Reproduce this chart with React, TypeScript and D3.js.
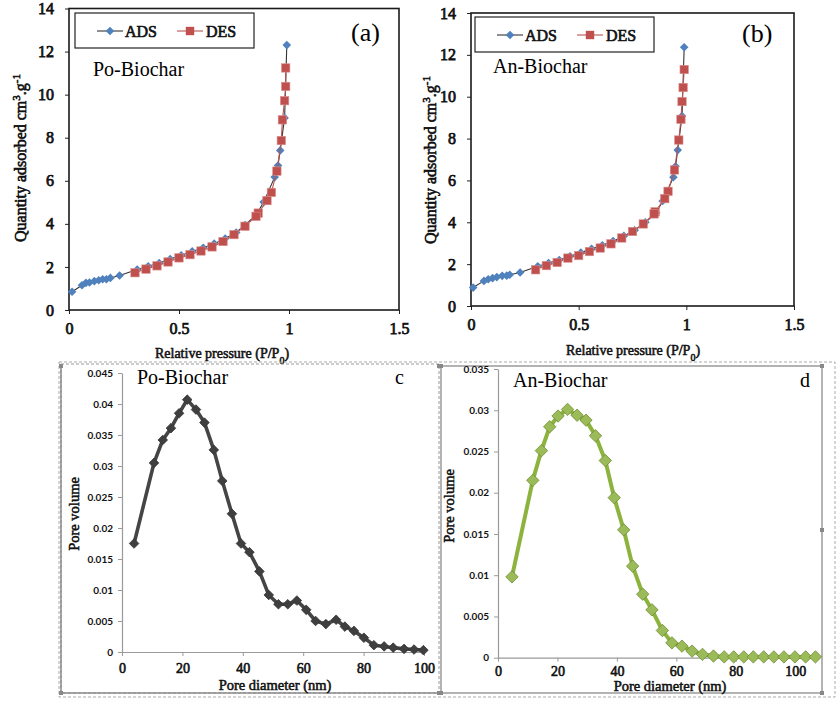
import React, { useEffect, useRef } from "react";
import * as d3 from "d3";

// N2 isotherms, Po-Biochar (relative pressure P/P0, quantity adsorbed cm3/g)
const poAdsP = [0.014, 0.059, 0.077, 0.093, 0.115, 0.135, 0.153, 0.17, 0.188, 0.23, 0.31, 0.36, 0.41, 0.46, 0.51, 0.56, 0.61, 0.66, 0.71, 0.76, 0.8, 0.85, 0.885, 0.935, 0.95, 0.96, 0.98, 0.99];
const poAdsQ = [0.85, 1.15, 1.26, 1.28, 1.34, 1.38, 1.43, 1.43, 1.49, 1.6, 1.88, 2.03, 2.18, 2.37, 2.54, 2.72, 2.89, 3.08, 3.32, 3.6, 3.95, 4.4, 5.01, 6.17, 6.71, 7.41, 8.92, 12.3];
const poDesP = [0.985, 0.985, 0.98, 0.97, 0.965, 0.945, 0.92, 0.9, 0.86, 0.85, 0.8, 0.75, 0.7, 0.65, 0.6, 0.55, 0.5, 0.45, 0.4, 0.35, 0.3];
const poDesQ = [11.24, 10.38, 9.72, 8.83, 7.87, 6.45, 5.46, 5.08, 4.5, 4.35, 3.89, 3.5, 3.18, 2.93, 2.74, 2.57, 2.42, 2.23, 2.05, 1.9, 1.73];

// N2 isotherms, An-Biochar
const anAdsP = [0.01, 0.06, 0.08, 0.1, 0.12, 0.145, 0.166, 0.18, 0.228, 0.31, 0.36, 0.41, 0.46, 0.51, 0.56, 0.61, 0.66, 0.71, 0.76, 0.81, 0.86, 0.89, 0.94, 0.95, 0.96, 0.98, 0.99];
const anAdsQ = [0.88, 1.2, 1.28, 1.33, 1.38, 1.44, 1.45, 1.49, 1.6, 1.9, 2.05, 2.2, 2.38, 2.55, 2.73, 2.9, 3.1, 3.35, 3.62, 4.0, 4.45, 5.02, 6.15, 6.68, 7.45, 9.08, 12.36];
const anDesP = [0.99, 0.985, 0.98, 0.975, 0.965, 0.945, 0.915, 0.9, 0.855, 0.85, 0.8, 0.75, 0.7, 0.65, 0.6, 0.55, 0.5, 0.45, 0.4, 0.35, 0.3];
const anDesQ = [11.3, 10.44, 9.77, 8.92, 7.93, 6.5, 5.48, 5.13, 4.5, 4.4, 3.92, 3.56, 3.25, 2.97, 2.77, 2.6, 2.41, 2.29, 2.08, 1.93, 1.73];

// pore size distributions (diameter nm, pore volume)
const poPoreD = [4.0, 10.6, 13.5, 16.2, 18.9, 21.6, 24.5, 27.3, 30.4, 33.2, 36.4, 39.4, 42.2, 45.5, 48.6, 51.8, 54.9, 57.9, 61.0, 64.1, 67.5, 70.9, 73.8, 76.8, 80.1, 83.4, 86.8, 89.8, 93.4, 96.7, 99.8];
const poPoreV = [0.0175, 0.0305, 0.0342, 0.0361, 0.0385, 0.0407, 0.0391, 0.037, 0.0326, 0.0276, 0.0223, 0.0175, 0.0161, 0.013, 0.0092, 0.0077, 0.0077, 0.0083, 0.0068, 0.005, 0.0045, 0.0052, 0.0041, 0.0034, 0.0023, 0.0011, 0.0009, 0.0007, 0.0005, 0.0004, 0.0003];
const anPoreD = [4.7, 11.7, 14.6, 17.4, 20.2, 23.4, 26.6, 29.6, 32.8, 36.1, 39.1, 42.3, 45.3, 48.7, 51.8, 55.3, 58.5, 61.9, 65.3, 68.8, 72.5, 76.1, 79.3, 82.7, 85.9, 89.4, 92.8, 96.2, 99.9, 103.5, 106.8];
const anPoreV = [0.0098, 0.0215, 0.0251, 0.028, 0.0293, 0.0301, 0.0294, 0.0288, 0.0269, 0.0239, 0.0194, 0.0155, 0.0111, 0.0077, 0.0058, 0.0033, 0.0018, 0.0014, 0.0008, 0.0004, 0.0002, 0.0001, 0.0001, 0.0001, 0.0001, 0.0001, 0.0001, 0.0001, 0.0001, 0.0001, 0.0001];

const isoXTicks = [0, 0.5, 1, 1.5];
const isoYTicks = [0, 2, 4, 6, 8, 10, 12, 14];
const poreXTicks = [0, 20, 40, 60, 80, 100];
const poVolTicks = [0, 0.005, 0.01, 0.015, 0.02, 0.025, 0.03, 0.035, 0.04, 0.045];
const anVolTicks = [0, 0.005, 0.01, 0.015, 0.02, 0.025, 0.03, 0.035];

const SERIF = "'Liberation Serif', serif";
const SANS = "Lato, 'Liberation Sans', sans-serif";
const BLUE = "#4F81BD";
const RED = "#C0504D";

const diamond = (r) => `M0,${-r}L${r},0L0,${r}L${-r},0Z`;
const zip = (xs, ys) => xs.map((v, i) => [v, ys[i]]);

// heavy serif text: regular face thickened with a thin outline
const boldSerif = (sel, size, w = 0.55) => sel
  .attr("fill", "#111")
  .attr("stroke", "#111")
  .attr("stroke-width", w)
  .style("font-family", SERIF)
  .style("font-weight", "normal")
  .style("font-size", `${size}px`);

function drawIsotherm(svg, o) {
  const x = d3.scaleLinear().domain([0, 1.5]).range([o.left, o.right]);
  const y = d3.scaleLinear().domain([0, 14]).range([o.bottom, o.top]);
  const g = svg.append("g");

  const xAxis = g.append("g")
    .attr("transform", `translate(0,${o.bottom})`)
    .call(d3.axisBottom(x).tickValues(isoXTicks).tickSize(4).tickPadding(9).tickFormat(d3.format("")));
  const yAxis = g.append("g")
    .attr("transform", `translate(${o.left},0)`)
    .call(d3.axisLeft(y).tickValues(isoYTicks).tickSize(4).tickPadding(11));
  [xAxis, yAxis].forEach(a => {
    a.select(".domain").remove();
    a.selectAll("line").attr("stroke", "#222");
    boldSerif(a.selectAll("text"), 16, 0.75);
  });

  g.append("rect")
    .attr("x", o.left).attr("y", o.top)
    .attr("width", o.right - o.left).attr("height", o.bottom - o.top)
    .attr("fill", "none").attr("stroke", "#1a1a1a").attr("stroke-width", 1.6);

  const line = d3.line().x(d => x(d[0])).y(d => y(d[1]));
  const ads = zip(o.adsP, o.adsQ);
  const des = zip(o.desP, o.desQ);

  g.append("path").datum(ads).attr("d", line)
    .attr("fill", "none").attr("stroke", "#333").attr("stroke-width", 1.1);
  g.selectAll(".ads").data(ads).enter().append("path")
    .attr("transform", d => `translate(${x(d[0])},${y(d[1])})`)
    .attr("d", diamond(4.3)).attr("fill", BLUE);

  g.append("path").datum(des).attr("d", line)
    .attr("fill", "none").attr("stroke", "#B65452").attr("stroke-width", 1.1);
  g.selectAll(".des").data(des).enter().append("rect")
    .attr("x", d => x(d[0]) - 4.2).attr("y", d => y(d[1]) - 4.2)
    .attr("width", 8.4).attr("height", 8.4)
    .attr("fill", RED).attr("stroke", "#D9908E").attr("stroke-width", 0.6);

  // legend
  const lg = g.append("g").attr("transform", `translate(${o.legendX},${o.legendY})`);
  lg.append("rect").attr("width", 179).attr("height", 35)
    .attr("fill", "white").attr("stroke", "#222").attr("stroke-width", 1.2);
  lg.append("line").attr("x1", 22).attr("x2", 48).attr("y1", 18).attr("y2", 18)
    .attr("stroke", "#333").attr("stroke-width", 1.1);
  lg.append("path").attr("transform", "translate(35,18)").attr("d", diamond(4.3)).attr("fill", BLUE);
  boldSerif(lg.append("text").attr("x", 50).attr("y", 23.5).text("ADS"), 16, 0.65);
  lg.append("line").attr("x1", 102).attr("x2", 128).attr("y1", 18).attr("y2", 18)
    .attr("stroke", "#B65452").attr("stroke-width", 1.1);
  lg.append("rect").attr("x", 110.8).attr("y", 13.8).attr("width", 8.4).attr("height", 8.4).attr("fill", RED);
  boldSerif(lg.append("text").attr("x", 131).attr("y", 23.5).text("DES"), 16, 0.65);

  g.append("text").attr("x", o.tagX).attr("y", o.tagY).text(o.tag)
    .style("font-family", SERIF).style("font-size", "26px");
  g.append("text").attr("x", o.nameX).attr("y", o.nameY).text(o.name)
    .style("font-family", SERIF).style("font-size", "20px");

  const xt = boldSerif(g.append("text").attr("x", o.xTitleX).attr("y", o.xTitleY)
    .attr("text-anchor", "middle"), 14, 0.55);
  xt.append("tspan").text("Relative pressure (P/P");
  xt.append("tspan").attr("baseline-shift", "sub").style("font-size", "10px").text("0");
  xt.append("tspan").text(")");

  const yt = boldSerif(g.append("text")
    .attr("transform", `translate(${o.yTitleX},${o.yTitleY}) rotate(-90)`)
    .attr("text-anchor", "middle"), 16, 0.6);
  yt.append("tspan").text("Quantity  adsorbed cm");
  yt.append("tspan").attr("baseline-shift", "super").style("font-size", "11px").text("3");
  yt.append("tspan").text(".g");
  yt.append("tspan").attr("baseline-shift", "super").style("font-size", "11px").text("-1");
}

function drawPore(svg, o) {
  const x = d3.scaleLinear().domain(o.xDomain).range([o.left, o.right]);
  const y = d3.scaleLinear().domain([0, o.yMax]).range([o.bottom, o.top]);
  const g = svg.append("g");

  const xAxis = g.append("g")
    .attr("transform", `translate(0,${o.bottom})`)
    .call(d3.axisBottom(x).tickValues(poreXTicks).tickSize(4).tickSizeOuter(0).tickPadding(o.xPad));
  const yAxis = g.append("g")
    .attr("transform", `translate(${o.left},0)`)
    .call(d3.axisLeft(y).tickValues(o.yTicks).tickSize(4).tickSizeOuter(0).tickPadding(5)
      .tickFormat(d => String(+d.toFixed(3))));
  [xAxis, yAxis].forEach(a => {
    a.select(".domain").attr("stroke", "#9a9a9a").attr("stroke-width", 1.2);
    a.selectAll("line").attr("stroke", "#9a9a9a");
  });
  boldSerif(xAxis.selectAll("text"), 14, 0.6);
  yAxis.selectAll("text").attr("fill", "#111")
    .style("font-family", SANS).style("font-weight", "bold").style("font-size", "10px");

  const pts = zip(o.d, o.v);
  g.append("path").datum(pts)
    .attr("d", d3.line().x(d => x(d[0])).y(d => y(d[1])))
    .attr("fill", "none").attr("stroke", o.lineColor).attr("stroke-width", o.lineWidth)
    .attr("stroke-linejoin", "round");
  g.selectAll(".pt").data(pts).enter().append("path")
    .attr("transform", d => `translate(${x(d[0])},${y(d[1])})`)
    .attr("d", diamond(o.r)).attr("fill", o.markFill)
    .attr("stroke", o.markStroke).attr("stroke-width", 0.8);

  g.append("text").attr("x", o.nameX).attr("y", o.nameY).text(o.name)
    .style("font-family", SERIF).style("font-size", "20px");
  g.append("text").attr("x", o.tagX).attr("y", o.nameY).text(o.tag)
    .style("font-family", SERIF).style("font-size", "20px");
  boldSerif(g.append("text").attr("x", o.xTitleX).attr("y", o.xTitleY).attr("text-anchor", "middle")
    .text("Pore diameter (nm)"), 14.5, 0.55);
  boldSerif(g.append("text")
    .attr("transform", `translate(${o.yTitleX},${o.yTitleY}) rotate(-90)`)
    .attr("text-anchor", "middle").text("Pore volume"), 14.5, 0.5);
}

function drawFrames(svg) {
  const g = svg.append("g").attr("fill", "none");
  g.append("rect").attr("x", 59).attr("y", 362).attr("width", 776).attr("height", 335)
    .attr("stroke", "#aaa").attr("stroke-dasharray", "3,2");
  // panel c box
  g.append("rect").attr("x", 61).attr("y", 364).attr("width", 378).attr("height", 329)
    .attr("stroke", "#999").attr("stroke-dasharray", "3,2");
  g.append("path").attr("d", "M61,364V693H439").attr("stroke", "#8a8a8a").attr("stroke-width", 1.5);
  // panel d box
  g.append("rect").attr("x", 441).attr("y", 366).attr("width", 381).attr("height", 327)
    .attr("stroke", "#8a8a8a").attr("stroke-width", 1.3);
  const handles = [[61, 366], [439, 366], [61, 693], [439, 693], [441, 366], [822, 366], [822, 530], [441, 693], [822, 693]];
  svg.append("g").selectAll("rect").data(handles).enter().append("rect")
    .attr("x", d => d[0] - 2).attr("y", d => d[1] - 2).attr("width", 4).attr("height", 4)
    .attr("fill", "#888");
}

export default function App() {
  const ref = useRef(null);

  useEffect(() => {
    const svg = d3.select(ref.current);
    svg.selectAll("*").remove();

    drawIsotherm(svg, {
      left: 69, right: 399, top: 8.5, bottom: 310,
      adsP: poAdsP, adsQ: poAdsQ, desP: poDesP, desQ: poDesQ,
      legendX: 75, legendY: 13, tag: "(a)", tagX: 351, tagY: 41,
      name: "Po-Biochar", nameX: 93, nameY: 76,
      xTitleX: 222, xTitleY: 358, yTitleX: 26, yTitleY: 158
    });
    drawIsotherm(svg, {
      left: 471, right: 794, top: 13, bottom: 306,
      adsP: anAdsP, adsQ: anAdsQ, desP: anDesP, desQ: anDesQ,
      legendX: 475, legendY: 17, tag: "(b)", tagX: 742, tagY: 42,
      name: "An-Biochar", nameX: 493, nameY: 73,
      xTitleX: 633, xTitleY: 355, yTitleX: 436, yTitleY: 160
    });

    drawFrames(svg);

    drawPore(svg, {
      left: 122, right: 424, top: 373, bottom: 652, xDomain: [0, 100],
      yMax: 0.045, yTicks: poVolTicks, d: poPoreD, v: poPoreV, xPad: 7,
      lineColor: "#454545", lineWidth: 3.6, r: 4.8, markFill: "#3f3f3f", markStroke: "#333",
      name: "Po-Biochar", nameX: 137, nameY: 384, tag: "c", tagX: 395,
      xTitleX: 275, xTitleY: 690, yTitleX: 79, yTitleY: 514
    });
    drawPore(svg, {
      left: 498, right: 819, top: 369, bottom: 657.7, xDomain: [0, 108],
      yMax: 0.035, yTicks: anVolTicks, d: anPoreD, v: anPoreV, xPad: 4,
      lineColor: "#8DB33F", lineWidth: 4, r: 6.2, markFill: "#9BBB59", markStroke: "#6E8C35",
      name: "An-Biochar", nameX: 513, nameY: 387, tag: "d", tagX: 800,
      xTitleX: 670, xTitleY: 691, yTitleX: 454, yTitleY: 506
    });
  }, []);

  return (
    <svg
      ref={ref}
      width={837}
      height={709}
      style={{ position: "absolute", left: 0, top: 0, background: "white" }}
    />
  );
}
